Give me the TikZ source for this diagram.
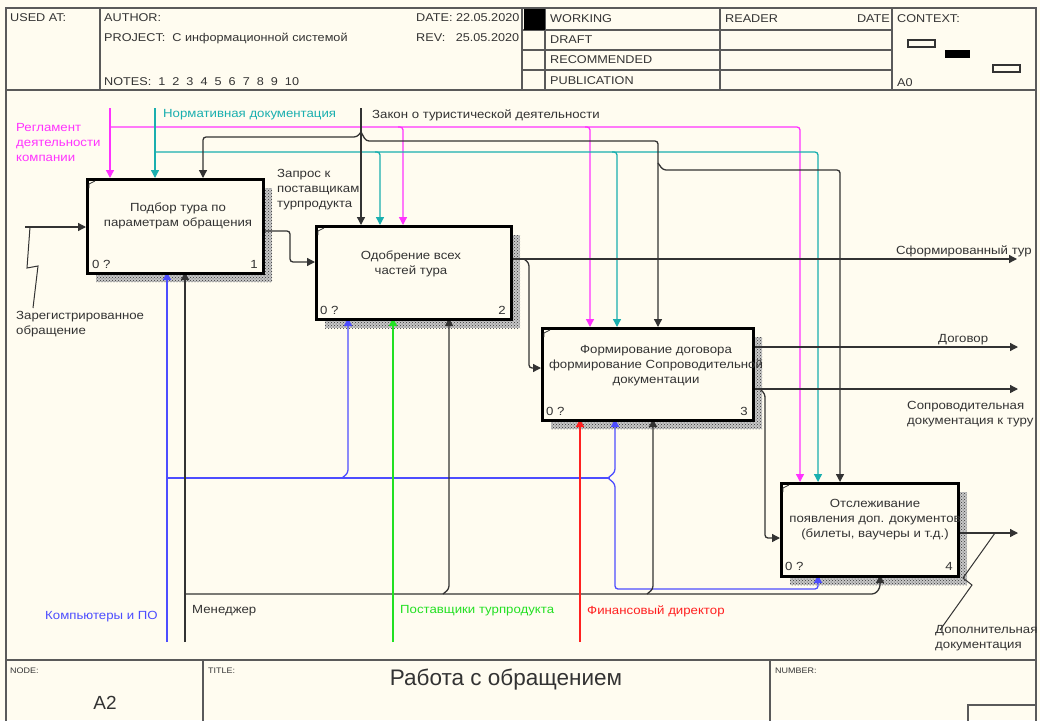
\documentclass[tikz,border=0pt]{standalone}
\usepackage{fontspec}
\setmainfont{Liberation Sans}[FakeStretch=1.12]
\newfontfamily\titlefont{Liberation Sans}
\usetikzlibrary{arrows.meta,patterns}
\definecolor{bg}{HTML}{FFFCF0}
\definecolor{mag}{HTML}{FF33FF}
\definecolor{tealc}{HTML}{1AAFAF}
\definecolor{blu}{HTML}{4D4DFF}
\definecolor{grn}{HTML}{22E022}
\definecolor{rd}{HTML}{FF2020}
\definecolor{ln}{HTML}{333333}
\definecolor{frm}{HTML}{5A5A5A}
\begin{document}
\begin{tikzpicture}[x=1pt,y=-1pt,
  every node/.style={font=\fontsize{11.8}{15}\selectfont, inner sep=0pt, text=ln},
  lbl/.style={anchor=west, align=left},
  boxtxt/.style={align=center},
  arr/.style={line width=1.3pt, draw=ln, rounded corners=3pt, -{Triangle[length=8pt,width=8pt]}},
  pln/.style={line width=1.3pt, draw=ln, rounded corners=3pt},
  actbox/.style={draw=black, line width=2.6pt, fill=bg, anchor=north west},
  shade/.style={fill=black!22, postaction={pattern=crosshatch dots, pattern color=black!80}},
  frame/.style={draw=frm, line width=1.5pt},
  hdr/.style={anchor=west, font=\fontsize{11.3}{13}\selectfont},
  small/.style={anchor=west, font=\fontsize{8}{9}\selectfont},
  corner/.style={line width=0.8pt, draw=ln}
]
\useasboundingbox (0,0) rectangle (1040,720);
\fill[bg] (0,0) rectangle (1040,720);

% ---------- frame and header ----------
\draw[frame] (6,8) rectangle (1036,730);
\draw[frame] (6,90) -- (1036,90);
\draw[frame] (6,660) -- (1036,660);
\draw[frame] (100,8) -- (100,90);
\draw[frame] (522,8) -- (522,90);
\draw[frame] (545,8) -- (545,90);
\draw[frame] (720,8) -- (720,90);
\draw[frame] (892,8) -- (892,90);
\draw[frame] (522,30) -- (892,30);
\draw[frame] (522,50) -- (892,50);
\draw[frame] (522,70) -- (892,70);
\fill[black] (524,9) rectangle (545,30);
\draw[frame] (203,660) -- (203,730);
\draw[frame] (770,660) -- (770,730);
\draw[frame] (968,705) rectangle (1036,730);

\node[hdr] (usedat) at (10,18) {USED AT:};
\node[hdr] (author) at (104,18) {AUTHOR:};
\node[hdr] (project) at (104,38) {PROJECT:\ \ С информационной системой};
\node[hdr] (notes) at (104,82) {NOTES:\ \ 1\ \ 2\ \ 3\ \ 4\ \ 5\ \ 6\ \ 7\ \ 8\ \ 9\ \ 10};
\node[hdr] (date) at (416,18) {DATE: 22.05.2020};
\node[hdr] (rev) at (416,38) {REV:\ \ \ 25.05.2020};
\node[hdr] (working) at (550,19) {WORKING};
\node[hdr] (draft) at (550,40) {DRAFT};
\node[hdr] (recom) at (550,60) {RECOMMENDED};
\node[hdr] (publ) at (550,81) {PUBLICATION};
\node[hdr] (reader) at (725,19) {READER};
\node[hdr, anchor=east] (rdate) at (890,19) {DATE};
\node[hdr] (context) at (897,19) {CONTEXT:};
\node[hdr] (a0) at (897,83) {A0};
\draw[line width=1.2pt, draw=ln] (908,40) rectangle (935,47);
\fill[black] (945,50) rectangle (970,58);
\draw[line width=1.2pt, draw=ln] (993,65) rectangle (1020,72);

\node[small] (nodelbl) at (10,671) {NODE:};
\node[small] (titlelbl) at (208,671) {TITLE:};
\node[small] (numlbl) at (775,671) {NUMBER:};
\node[font=\titlefont\fontsize{19}{20}\selectfont] (a2) at (105,703) {A2};
\node[font=\titlefont\fontsize{22.5}{24}\selectfont] (title) at (506,680) {Работа с обращением};

% ---------- shadows ----------
\fill[shade] (96,188) rectangle (272,282);
\fill[shade] (325,235) rectangle (520,328);
\fill[shade] (551,337) rectangle (762,429);
\fill[shade] (790,492) rectangle (967,585);

% ---------- connectors ----------
% controls: Регламент (magenta)
\draw[arr, draw=mag] (110,108) -- (110,178);
\draw[arr, draw=mag] (110,127) -- (800,127) -- (800,482);
\draw[arr, draw=mag] (398,127) -- (403,127) -- (403,225);
\draw[arr, draw=mag] (585,127) -- (590,127) -- (590,327);
% Нормативная документация (teal)
\draw[arr, draw=tealc] (155,108) -- (155,178);
\draw[arr, draw=tealc] (155,152) -- (818,152) -- (818,482);
\draw[arr, draw=tealc] (375,152) -- (380,152) -- (380,225);
\draw[arr, draw=tealc] (612,152) -- (617,152) -- (617,327);
% Закон (black)
\draw[arr] (361,108) -- (361,225);
\draw[arr] (361,132) -- (357,137) -- (203,137) -- (203,178);
\draw[arr] (361,132) -- (366,141) -- (658,141) -- (658,327);
\draw[arr] (658,163) -- (663,170) -- (840,170) -- (840,482);

% input
\coordinate (in1) at (25,227);
\draw[arr] (in1) -- (86,227);
\draw[line width=1pt, draw=ln] (30,227) -- (27,268) -- (38,266) -- (33,308);

% b1 -> b2
\draw[arr] (262,231) -- (290,231) -- (290,262) -- (315,262);
% b2 outputs
\draw[arr] (510,259) -- (1017,259);
\draw[arr] (524,259) -- (529,263) -- (529,368) -- (541,368);
% b3 outputs
\draw[arr] (752,347) -- (1018,347);
\draw[arr] (752,389) -- (1018,389);
\draw[arr] (760,389) -- (765,394) -- (765,538) -- (780,538);
% b4 output
\draw[arr] (957,533) -- (1018,533);
\draw[line width=1pt, draw=ln] (995,533) -- (963,578) -- (972,585) -- (940,630);

% mechanisms: Компьютеры и ПО (blue)
\draw[arr, draw=blu] (167,642) -- (167,272);
\draw[pln, draw=blu] (167,478) -- (610,478);
\draw[arr, draw=blu] (342,478) -- (348,473) -- (348,318);
\draw[arr, draw=blu] (608,478) -- (615,472) -- (615,419);
\draw[arr, draw=blu] (608,478) -- (615,484) -- (615,589) -- (818,589) -- (818,575);
% Менеджер (black)
\draw[arr] (185,642) -- (185,272);
\draw[arr] (185,594) -- (875,594) -- (880,588) -- (880,575);
\draw[arr] (443,594) -- (449,589) -- (449,318);
\draw[arr] (647,594) -- (653,589) -- (653,419);
% Поставщики (green)
\draw[arr, draw=grn] (393,642) -- (393,318);
% Финансовый директор (red)
\draw[arr, draw=rd] (580,642) -- (580,419);

% ---------- activity boxes ----------
\node[actbox, minimum width=176pt, minimum height=94pt] (b1) at (86,178) {};
\node[actbox, minimum width=195pt, minimum height=93pt] (b2) at (315,225) {};
\node[actbox, minimum width=211pt, minimum height=92pt] (b3) at (541,327) {};
\node[actbox, minimum width=177pt, minimum height=93pt] (b4) at (780,482) {};

\draw[corner] (89,188) -- (89,184) -- (95,181);
\draw[corner] (318,235) -- (318,231) -- (324,228);
\draw[corner] (544,337) -- (544,333) -- (550,330);
\draw[corner] (783,492) -- (783,488) -- (789,485);

\node[boxtxt] (t1) at (178,216) {Подбор тура по\\параметрам обращения};
\node[boxtxt] (t2) at (411,264) {Одобрение всех\\частей тура};
\node[boxtxt] (t3) at (656,366) {Формирование договора\\формирование Сопроводительной\\документации};
\node[boxtxt] (t4) at (875,520) {Отслеживание\\появления доп. документов\\(билеты, ваучеры и т.д.)};

\node[anchor=west] (c1) at (92,264) {0 ?};
\node[anchor=east] (n1) at (258,264) {1};
\node[anchor=west] (c2) at (320,310) {0 ?};
\node[anchor=east] (n2) at (506,310) {2};
\node[anchor=west] (c3) at (546,411) {0 ?};
\node[anchor=east] (n3) at (748,411) {3};
\node[anchor=west] (c4) at (785,566) {0 ?};
\node[anchor=east] (n4) at (953,566) {4};

% ---------- arrow labels ----------
\node[lbl, text=mag] (l1) at (16,142) {Регламент\\деятельности\\компании};
\node[lbl, text=tealc] (l2) at (163,115) {Нормативная документация};
\node[lbl] (l3) at (372,115) {Закон о туристической деятельности};
\node[lbl] (l4) at (277,190) {Запрос к\\поставщикам\\турпродукта};
\node[lbl] (l5) at (16,324) {Зарегистрированное\\обращение};
\node[anchor=east] (l6) at (1032,251) {Сформированный тур};
\node[lbl] (l7) at (938,340) {Договор};
\node[lbl] (l8) at (907,414) {Сопроводительная\\документация к туру};
\node[lbl] (l9) at (935,638) {Дополнительная\\документация};
\node[lbl, text=blu] (l10) at (45,617) {Компьютеры и ПО};
\node[lbl] (l11) at (192,611) {Менеджер};
\node[lbl, text=grn] (l12) at (400,611) {Поставщики турпродукта};
\node[lbl, text=rd] (l13) at (587,611) {Финансовый директор};
\end{tikzpicture}
\end{document}
